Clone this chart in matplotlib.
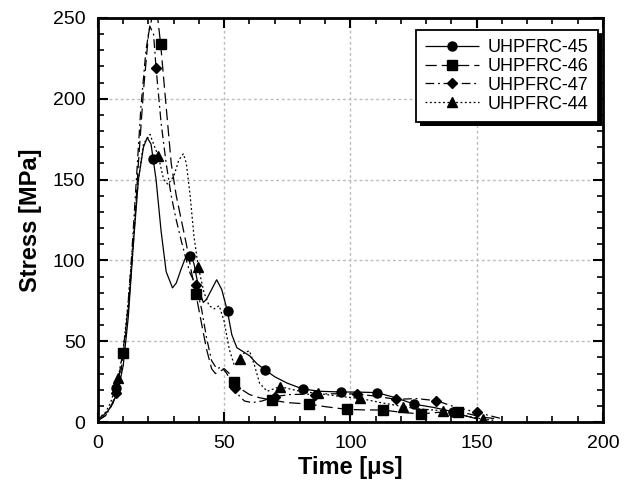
import matplotlib
matplotlib.use('Agg')
import matplotlib.pyplot as plt
from matplotlib.patches import Rectangle
from matplotlib.ticker import MultipleLocator

plt.rcParams['font.family'] = ['Liberation Sans', 'DejaVu Sans']

# UHPFRC-45 (solid, circles)
t45 = [0, 2, 4, 6, 8, 10, 12, 14, 16, 18, 19.5, 21, 23, 25, 27, 29.5, 31, 33, 35, 36.5,
       38, 40, 41.7, 43, 45, 47, 49, 51.2, 53, 55, 57, 60, 63, 66.4, 70, 75, 81.2, 88,
       96.1, 103, 110.4, 118, 125.3, 133, 140.5, 145, 150]
s45 = [2, 4, 7, 12, 20, 35, 65, 110, 150, 170, 176, 172, 150, 118, 93, 83, 86, 95, 103, 104,
       98, 82, 74, 76, 82, 88, 82, 69, 54, 46, 44, 41, 36, 32, 28, 24, 20.4, 19,
       18.6, 18.5, 18.2, 15, 11, 9, 6.4, 4, 2]
t45_m = [7, 21.8, 36.4, 51.3, 66.3, 81.2, 96.1, 110.4, 125.2, 140.5]
s45_m = [21, 163, 103, 69, 32, 20.3, 18.6, 18.2, 11, 6.4]

# UHPFRC-46 (long dash, squares)
t46 = [0, 3, 6, 8, 9.8, 12, 14, 16, 18, 20, 22, 23.5, 24.8, 27, 29, 31, 33, 35, 37, 38.8,
       41, 43, 45, 46.5, 48, 50, 52, 54, 57, 60, 64, 68.8, 75, 83.7, 90, 98.6, 105, 113,
       120, 127.8, 135, 142.7, 147, 152, 158]
s46 = [1, 4, 12, 25, 43, 70, 110, 160, 205, 240, 255, 252, 234, 195, 160, 140, 125, 110, 93, 79,
       61, 45, 33, 30, 31, 33, 30, 25, 20, 17, 15, 13.6, 12, 11.1, 9.5, 7.8, 7.5, 7.4,
       6, 5, 6, 6, 5, 3, 2]
t46_m = [9.8, 24.8, 38.8, 54, 68.8, 83.7, 98.6, 113, 127.8, 142.7]
s46_m = [43, 234, 79, 25, 13.6, 11.1, 7.8, 7.4, 5, 6]

# UHPFRC-47 (dash-dot, diamonds)
t47 = [0, 3, 5, 7.3, 9, 11, 13, 15, 17, 19, 20.5, 22, 23, 25, 27, 29, 31, 33, 35, 36.5,
       38.7, 41, 43, 45, 47, 49, 51, 54.3, 56, 58, 61, 65, 70, 76, 86, 95, 102.4, 110,
       118.1, 126, 134, 142, 150, 155, 160]
s47 = [1, 4, 9, 18, 30, 55, 95, 145, 195, 230, 245, 240, 219, 185, 160, 140, 125, 112, 100, 92,
       85, 70, 52, 38, 33, 34, 30, 21, 16, 13, 12, 13, 15.7, 17, 17.3, 17.5, 17.3, 16,
       14, 14.5, 13.2, 9, 6, 4, 2]
t47_m = [7.3, 23, 38.7, 54.3, 70, 86, 102.4, 118.1, 134, 150]
s47_m = [18, 219, 85, 21, 15.7, 17, 17.3, 14, 13.2, 6]

# UHPFRC-44 (dotted, triangles)
t44 = [0, 3, 5, 8, 10, 12, 14, 16, 18, 20.6, 22, 23.9, 26, 27.7, 30, 32, 33.8, 35, 36.5, 38,
       39.7, 42, 44, 46, 48, 50, 52, 54, 56.2, 58, 60, 62, 64, 67, 72, 80, 87.3, 95,
       103.8, 112, 120.9, 128, 136.5, 145, 152.6, 157]
s44 = [2, 6, 12, 27, 45, 75, 115, 150, 172, 178, 172, 164.6, 150, 147, 152, 162, 166, 160, 140, 115,
       96, 80, 72, 70, 72, 62, 45, 35, 38.8, 43, 44, 35, 24, 19, 21.9, 19, 17.7, 16,
       14.6, 12, 9.5, 8, 7, 4, 1.7, 1]
t44_m = [8, 23.9, 39.7, 56.2, 72, 87.3, 103.8, 120.9, 136.5, 152.6]
s44_m = [27, 164.6, 96, 38.8, 21.9, 17.7, 14.6, 9.5, 7, 1.7]

series = [
    ('UHPFRC-45', t45, s45, t45_m, s45_m, 'o', (0, ()), 6.5),
    ('UHPFRC-46', t46, s46, t46_m, s46_m, 's', (0, (9, 4)), 7),
    ('UHPFRC-47', t47, s47, t47_m, s47_m, 'D', (0, (7, 3, 1.5, 3)), 5.5),
    ('UHPFRC-44', t44, s44, t44_m, s44_m, '^', (0, (1.5, 2)), 7),
]

fig = plt.figure(figsize=(6.31, 4.93), dpi=100)
ax = fig.add_axes([0.1553, 0.144, 0.8003, 0.8195])

for name, t, s, tm, sm, mk, ls, ms in series:
    ax.plot(t, s, color='black', linestyle=ls, linewidth=0.9)
    ax.plot(tm, sm, color='black', linestyle='none', marker=mk, markersize=ms)
    # legend proxy
    ax.plot([], [], color='black', linestyle=ls, linewidth=0.9, marker=mk,
            markersize=ms, label=name)

ax.set_xlim(0, 200)
ax.set_ylim(0, 250)
ax.xaxis.set_major_locator(MultipleLocator(50))
ax.xaxis.set_minor_locator(MultipleLocator(10))
ax.yaxis.set_major_locator(MultipleLocator(50))
ax.yaxis.set_minor_locator(MultipleLocator(10))
ax.tick_params(which='both', direction='in', top=True, right=True, labelsize=14)
ax.tick_params(which='major', length=7, width=1.5, pad=9)
ax.tick_params(which='minor', length=4, width=1.2)
for sp in ax.spines.values():
    sp.set_linewidth(2)
ax.grid(True, which='major', color='#bbbbbb', linestyle=(0, (2, 2)), linewidth=1)
ax.set_axisbelow(True)

ax.set_xlabel('Time [\u03bcs]', fontsize=17, fontweight='bold', labelpad=3)
ax.set_ylabel('Stress [MPa]', fontsize=17, fontweight='bold', labelpad=8)

leg = ax.legend(loc='upper right', bbox_to_anchor=(0.99, 0.97), borderaxespad=0,
                fontsize=13, frameon=True, fancybox=False, handlelength=3.0,
                borderpad=0.5, labelspacing=0.1, handletextpad=0.5)
leg.get_frame().set_edgecolor('black')
leg.get_frame().set_linewidth(1.3)
leg.get_frame().set_alpha(1)
leg.set_zorder(10)

# black drop shadow behind the legend box
fig.canvas.draw()
bb = leg.get_window_extent().transformed(fig.transFigure.inverted())
dx, dy = 4 / fig.bbox.width, 4 / fig.bbox.height
shadow = Rectangle((bb.x0 + dx, bb.y0 - dy), bb.width, bb.height,
                   transform=fig.transFigure, facecolor='black',
                   edgecolor='none', zorder=9, clip_on=False)
ax.add_artist(shadow)

fig.savefig('out.png', dpi=100)
